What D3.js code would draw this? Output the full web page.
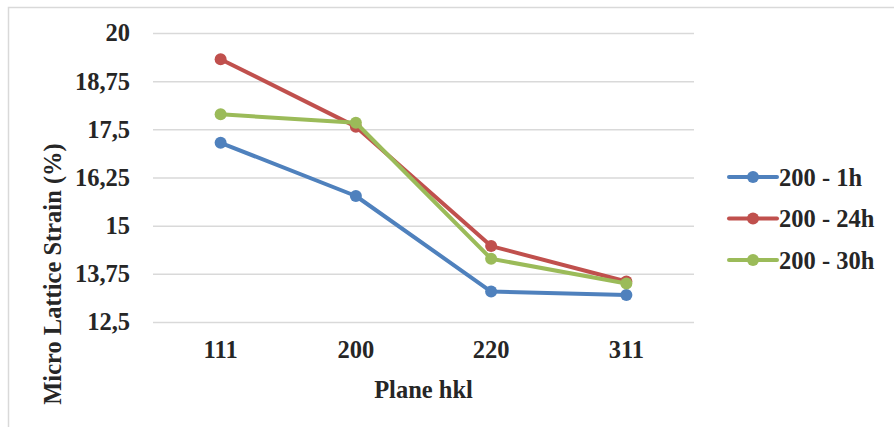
<!DOCTYPE html>
<html><head><meta charset="utf-8">
<script src="https://cdn.jsdelivr.net/npm/d3@7"></script>
<style>body{margin:0;background:#fff;} svg{display:block;} text{font-family:"Liberation Serif","Times New Roman",serif;font-weight:bold;fill:#262626;}</style>
</head><body>
<svg id="c" width="894" height="427"></svg>
<script>
const categories = ["111", "200", "220", "311"];
const seriesNames = ["200 - 1h", "200 - 24h", "200 - 30h"];
const s1h = [17.15, 15.77, 13.29, 13.20];
const s24h = [19.32, 17.57, 14.47, 13.55];
const s30h = [17.89, 17.67, 14.14, 13.50];
const yTicks = [12.5, 13.75, 15, 16.25, 17.5, 18.75, 20];
const colors = ["#4F81BD", "#C0504D", "#9BBB59"];
const series = [s1h, s24h, s30h];

const svg = d3.select("#c");
svg.append("rect").attr("x", 8.5).attr("y", 7.5).attr("width", 900).attr("height", 430)
  .attr("fill", "none").attr("stroke", "#d9d9d9").attr("stroke-width", 1.5);

const L = 153, R = 694, T = 33, B = 322;
const x = d3.scaleBand().domain(categories).range([L, R]);
const y = d3.scaleLinear().domain([12.5, 20]).range([B, T]);
const fmt = v => String(v).replace(".", ",");
const FS = "24.5px";

const gy = svg.append("g").attr("transform", `translate(${L},0)`)
  .call(d3.axisLeft(y).tickValues(yTicks).tickSize(-(R - L)).tickFormat(fmt).tickPadding(23));
gy.select(".domain").remove();
gy.selectAll(".tick line").attr("stroke", "#d9d9d9").attr("stroke-width", 1.5);
gy.selectAll(".tick text").style("font-size", FS).attr("fill", "#262626");

const gx = svg.append("g").attr("transform", `translate(0,${B})`)
  .call(d3.axisBottom(x).tickSize(0).tickPadding(19));
gx.select(".domain").remove();
gx.selectAll(".tick text").style("font-size", FS).attr("fill", "#262626");

svg.append("text").attr("x", (L + R) / 2).attr("y", 398).attr("text-anchor", "middle")
  .style("font-size", FS).text("Plane hkl");
svg.append("text").attr("transform", "translate(61,274) rotate(-90)").attr("text-anchor", "middle")
  .style("font-size", FS).text("Micro Lattice Strain (%)");

const line = d3.line().x((d, i) => x(categories[i]) + x.bandwidth() / 2).y(d => y(d));
series.forEach((s, k) => {
  svg.append("path").datum(s).attr("d", line).attr("fill", "none")
    .attr("stroke", colors[k]).attr("stroke-width", 4).attr("stroke-linejoin", "round");
  svg.selectAll(null).data(s).enter().append("circle")
    .attr("cx", (d, i) => x(categories[i]) + x.bandwidth() / 2).attr("cy", d => y(d))
    .attr("r", 6).attr("fill", colors[k]);
});

const lg = svg.append("g");
seriesNames.forEach((n, k) => {
  const yy = 177 + k * 41.5;
  lg.append("line").attr("x1", 729).attr("x2", 777).attr("y1", yy).attr("y2", yy)
    .attr("stroke", colors[k]).attr("stroke-width", 4).attr("stroke-linecap", "round");
  lg.append("circle").attr("cx", 753).attr("cy", yy).attr("r", 6).attr("fill", colors[k]);
  lg.append("text").attr("x", 779).attr("y", yy).attr("dy", "0.35em").style("font-size", FS).text(n);
});
</script>
</body></html>
